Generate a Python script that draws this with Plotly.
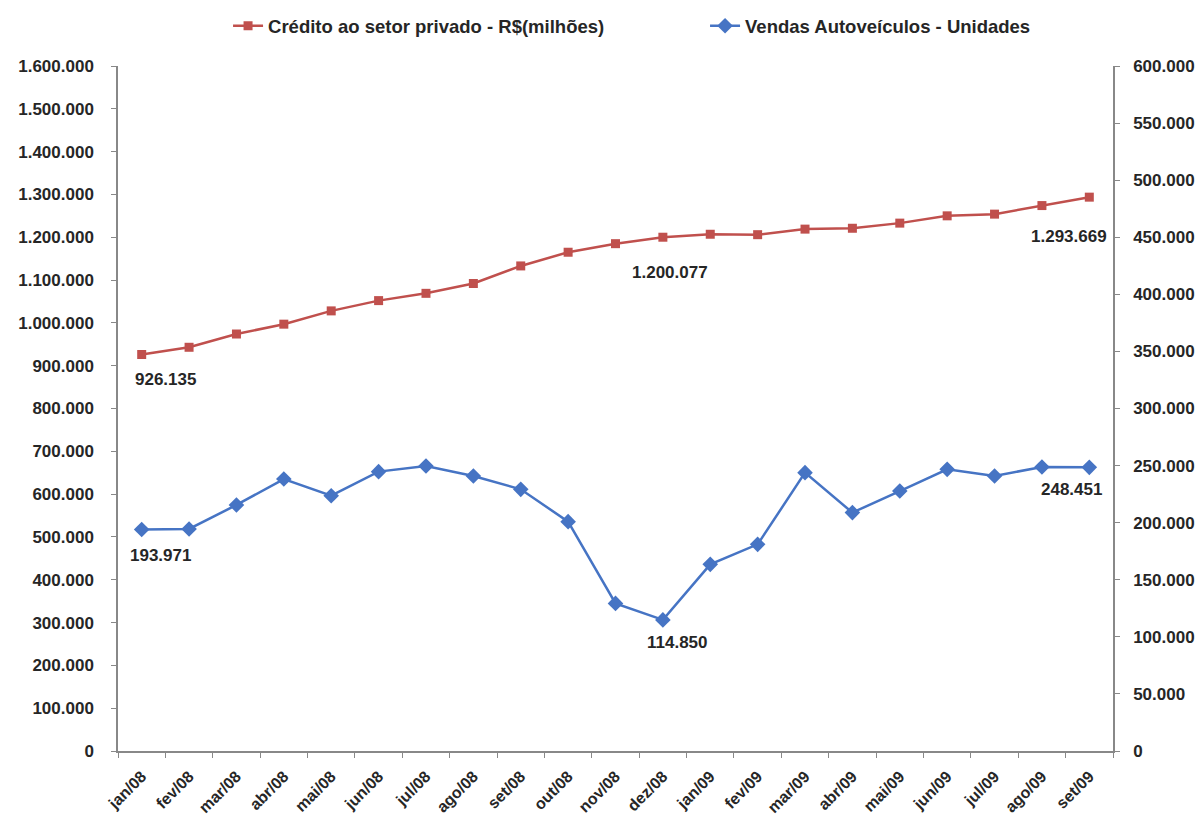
import plotly.graph_objects as go

meses = ["jan/08", "fev/08", "mar/08", "abr/08", "mai/08", "jun/08", "jul/08",
         "ago/08", "set/08", "out/08", "nov/08", "dez/08", "jan/09", "fev/09",
         "mar/09", "abr/09", "mai/09", "jun/09", "jul/09", "ago/09", "set/09"]

credito = [926135, 943000, 974000, 997000, 1028000, 1052000, 1069000,
           1092000, 1133000, 1165000, 1185000, 1200077, 1207000, 1206000,
           1219000, 1221000, 1233000, 1250000, 1254000, 1274000, 1293669]

vendas = [193971, 194500, 215500, 238200, 223600, 244700, 249600,
          240900, 229200, 200900, 129300, 114850, 163500, 181000,
          243800, 208800, 227700, 246700, 240900, 248800, 248451]

left_ticks = list(range(0, 1600001, 100000))
right_ticks = list(range(0, 600001, 50000))

RED = "#C0504D"
BLUE = "#4674C4"
AXIS = "#888888"
FONT = "Liberation Sans, Arial, sans-serif"
TXT = "#262626"


def fmt(v):
    return f"{v:,}".replace(",", ".")


fig = go.Figure()
fig.add_trace(go.Scatter(
    x=meses, y=credito, name="Crédito ao setor privado - R$(milhões)",
    mode="lines+markers", yaxis="y", legend="legend",
    line=dict(color=RED, width=2.5),
    marker=dict(symbol="square", size=9, color=RED),
))
fig.add_trace(go.Scatter(
    x=meses, y=vendas, name="Vendas Autoveículos - Unidades",
    mode="lines+markers", yaxis="y2", legend="legend2",
    line=dict(color=BLUE, width=2.5),
    marker=dict(symbol="diamond", size=12, color=BLUE),
))

# data labels: (index, series, axis, xshift, yshift)
labels = [
    (0, credito, "y", 24, -25),
    (11, credito, "y", 7, -35),
    (20, credito, "y", -20, -39),
    (0, vendas, "y2", 19, -26),
    (11, vendas, "y2", 15, -23),
    (20, vendas, "y2", -18, -22),
]
for i, series, yref, xs, ys in labels:
    fig.add_annotation(
        x=meses[i], y=series[i], xref="x", yref=yref,
        text=fmt(series[i]), showarrow=False,
        xshift=xs, yshift=ys,
        font=dict(family=FONT, size=17, color=TXT, weight="bold"),
    )

axis_font = dict(family=FONT, size=17, color=TXT, weight="bold")
leg_font = dict(family=FONT, size=18.5, color=TXT, weight="bold")

fig.update_layout(
    width=1202, height=823,
    margin=dict(l=118, r=89, t=66, b=72, autoexpand=False),
    paper_bgcolor="white", plot_bgcolor="white",
    separators=",.",
    showlegend=True,
    legend=dict(orientation="h", x=0.1106, xanchor="left", y=1.058, yanchor="middle",
                font=leg_font, bgcolor="rgba(0,0,0,0)"),
    legend2=dict(orientation="h", x=0.590, xanchor="left", y=1.058, yanchor="middle",
                 font=leg_font, bgcolor="rgba(0,0,0,0)"),
    xaxis=dict(
        type="category", tickangle=-45,
        tickfont=dict(family=FONT, size=16, color=TXT, weight="bold"),
        showline=True, linecolor=AXIS, linewidth=1.5, ticks="outside", tickson="boundaries",
        ticklen=5, tickcolor=AXIS, showgrid=False, zeroline=False,
        range=[-0.5, 20.5], ticklabelstandoff=8,
    ),
    yaxis=dict(
        range=[0, 1600000], tickvals=left_ticks, tickformat=",d",
        tickfont=axis_font, showline=True, linecolor=AXIS, linewidth=1.5,
        ticks="outside", ticklen=5, tickcolor=AXIS, showgrid=False, zeroline=False,
        ticklabelstandoff=14,
    ),
    yaxis2=dict(
        range=[0, 600000], tickvals=right_ticks, tickformat=",d",
        tickfont=axis_font, overlaying="y", side="right",
        showline=True, linecolor=AXIS, linewidth=1.5,
        ticks="outside", ticklen=5, tickcolor=AXIS, showgrid=False, zeroline=False,
        ticklabelstandoff=10,
    ),
)

fig.write_html("out.html")
